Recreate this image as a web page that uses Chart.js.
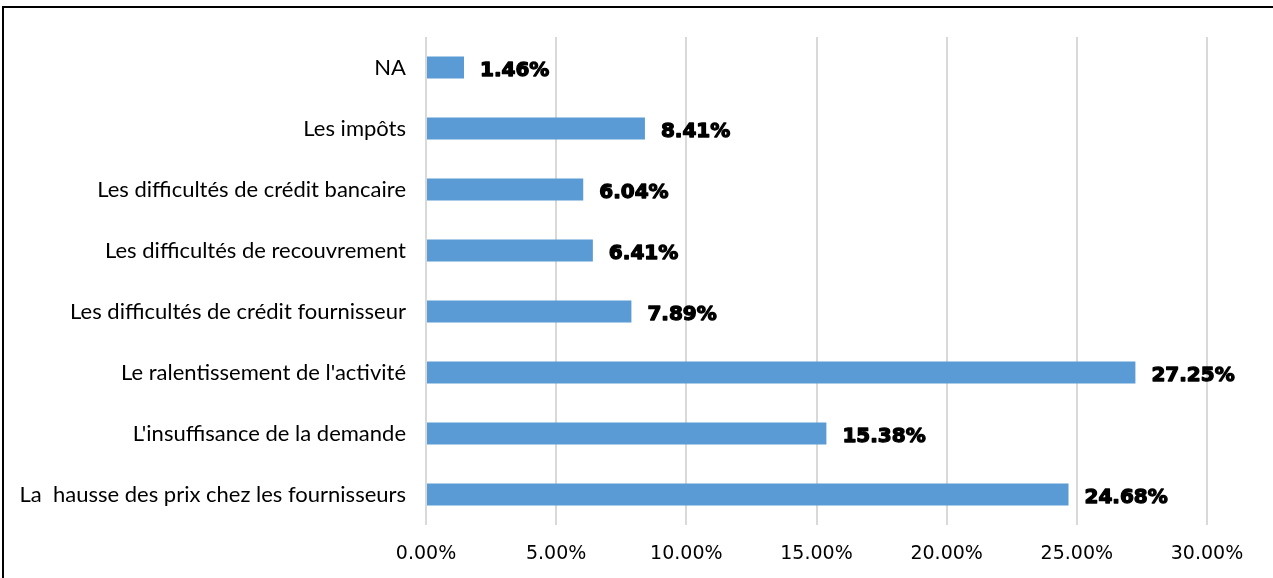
<!DOCTYPE html>
<html>
<head>
<meta charset="utf-8">
<script src="https://cdn.jsdelivr.net/npm/chart.js@4/dist/chart.umd.min.js"></script>
<style>
    body { margin: 0; background: #fff; overflow: hidden; }
    #cadre { position: absolute; left: 2px; top: 6px; width: 1300px; height: 600px; border-left: 2px solid #000; border-top: 2px solid #000; }
    #graphique { position: absolute; left: 0; top: 0; }
</style>
</head>
<body>
<div id="cadre"></div>
<canvas id="graphique" width="1273" height="578"></canvas>
<script>
// ==================== DONNÉES ====================
const categories = [
    'NA',
    'Les impôts',
    'Les difficultés de crédit bancaire',
    'Les difficultés de recouvrement',
    'Les difficultés de crédit fournisseur',
    "Le ralentissement de l'activité",
    "L'insuffisance de la demande",
    'La  hausse des prix chez les fournisseurs'
];
const valeurs = [1.46, 8.41, 6.04, 6.41, 7.89, 27.25, 15.38, 24.68];
const ticksAxe = [0, 5, 10, 15, 20, 25, 30];

// étiquettes de valeur à droite des barres (trait épais pour imiter une police "black")
const etiquettesValeurs = {
    id: 'etiquettesValeurs',
    afterDatasetsDraw(chart) {
        const ctx = chart.ctx;
        const meta = chart.getDatasetMeta(0);
        ctx.save();
        ctx.font = 'bold 20px "DejaVu Sans"';
        ctx.fillStyle = '#000';
        ctx.strokeStyle = '#000';
        ctx.lineWidth = 1.3;
        ctx.lineJoin = 'round';
        ctx.textAlign = 'left';
        ctx.textBaseline = 'middle';
        meta.data.forEach((bar, i) => {
            const txt = valeurs[i].toFixed(2) + '%';
            ctx.fillText(txt, bar.x + 16, bar.y + 3);
            ctx.strokeText(txt, bar.x + 16, bar.y + 3);
        });
        ctx.restore();
    }
};

const ctx = document.getElementById('graphique').getContext('2d');
new Chart(ctx, {
    type: 'bar',
    data: {
        labels: categories,
        datasets: [{
            data: valeurs,
            backgroundColor: '#5b9bd5',
            barPercentage: 0.36,
            categoryPercentage: 1
        }]
    },
    options: {
        indexAxis: 'y',
        responsive: false,
        animation: false,
        layout: { padding: { left: 0, right: 66, top: 37, bottom: 0 } },
        plugins: { legend: { display: false }, tooltip: { enabled: false } },
        scales: {
            x: {
                min: 0,
                max: 30,
                afterBuildTicks: (scale) => { scale.ticks = ticksAxe.map(v => ({ value: v })); },
                afterFit: (scale) => { scale.height = 53; },
                grid: { color: '#d9d9d9', lineWidth: 2, drawTicks: false },
                border: { display: false },
                ticks: {
                    padding: 18,
                    color: '#000',
                    font: { family: 'DejaVu Sans', size: 19 },
                    callback: (v) => Number(v).toFixed(2) + '%'
                }
            },
            y: {
                afterFit: (scale) => { scale.width = 426; },
                grid: { display: false },
                border: { display: false },
                ticks: {
                    padding: 12,
                    color: '#000',
                    font: { family: 'Lato', size: 22 }
                }
            }
        }
    },
    plugins: [etiquettesValeurs]
});
</script>
</body>
</html>
